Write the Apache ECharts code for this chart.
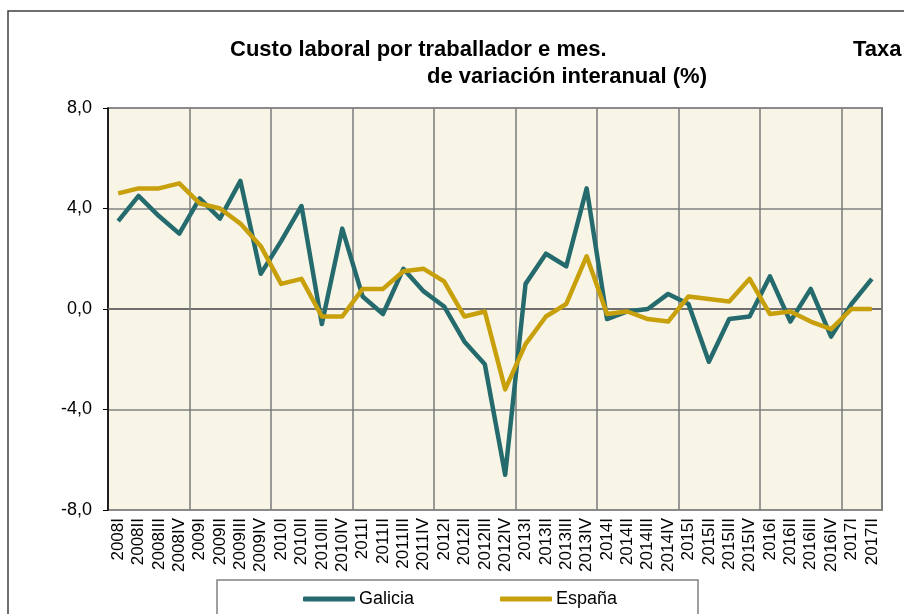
<!DOCTYPE html>
<html>
<head>
<meta charset="utf-8">
<script src="https://cdn.jsdelivr.net/npm/echarts@6/dist/echarts.min.js"></script>
<style>
html,body{margin:0;padding:0;background:#fff;}
#chart{width:904px;height:614px;}
</style>
</head>
<body>
<div id="chart"></div>
<script>
const categories = [
  "2008I","2008II","2008III","2008IV",
  "2009I","2009II","2009III","2009IV",
  "2010I","2010II","2010III","2010IV",
  "2011I","2011II","2011III","2011IV",
  "2012I","2012II","2012III","2012IV",
  "2013I","2013II","2013III","2013IV",
  "2014I","2014II","2014III","2014IV",
  "2015I","2015II","2015III","2015IV",
  "2016I","2016II","2016III","2016IV",
  "2017I","2017II"
];
const galicia = [
  3.5, 4.5, 3.7, 3.0,
  4.4, 3.6, 5.1, 1.4,
  2.7, 4.1, -0.6, 3.2,
  0.5, -0.2, 1.6, 0.7,
  0.1, -1.3, -2.2, -6.6,
  1.0, 2.2, 1.7, 4.8,
  -0.4, -0.1, 0.0, 0.6,
  0.2, -2.1, -0.4, -0.3,
  1.3, -0.5, 0.8, -1.1,
  0.2, 1.2
];
const espana = [
  4.6, 4.8, 4.8, 5.0,
  4.2, 4.0, 3.4, 2.5,
  1.0, 1.2, -0.3, -0.3,
  0.8, 0.8, 1.5, 1.6,
  1.1, -0.3, -0.1, -3.2,
  -1.4, -0.3, 0.2, 2.1,
  -0.2, -0.1, -0.4, -0.5,
  0.5, 0.4, 0.3, 1.2,
  -0.2, -0.1, -0.5, -0.8,
  0.0, 0.0
];
const seriesNames = ["Galicia", "España"];
const titleLine1 = "Custo laboral por traballador e mes.";
const titleLine2 = "de variación interanual (%)";
const titleRight = "Taxa";

const chart = echarts.init(document.getElementById('chart'), null, {renderer: 'canvas'});
const font = '"Liberation Sans", Arial, sans-serif';
const option = {
  backgroundColor: '#ffffff',
  animation: false,
  textStyle: {fontFamily: font},
  graphic: [
    {type: 'rect', z: -10, shape: {x: 8, y: 11, width: 1000, height: 700},
     style: {fill: '#ffffff', stroke: '#404040', lineWidth: 1.5}},
    {type: 'rect', z: -5, shape: {x: 217, y: 580, width: 481, height: 60},
     style: {fill: '#ffffff', stroke: '#808080', lineWidth: 1.5}}
  ],
  title: [
    {text: titleLine1, left: 230, top: 39, padding: 0,
     textStyle: {fontFamily: font, fontWeight: 'bold', fontSize: 22, color: '#000'}},
    {text: titleLine2, left: 427, top: 66, padding: 0,
     textStyle: {fontFamily: font, fontWeight: 'bold', fontSize: 22, color: '#000'}},
    {text: titleRight, left: 853, top: 39, padding: 0,
     textStyle: {fontFamily: font, fontWeight: 'bold', fontSize: 22, color: '#000'}}
  ],
  legend: {
    data: seriesNames,
    left: 303, top: 590, padding: 0,
    icon: 'roundRect',
    itemWidth: 52, itemHeight: 5,
    itemGap: 86,
    textStyle: {fontFamily: font, fontSize: 18, color: '#000', padding: [0, 0, 0, -1]}
  },
  grid: {
    left: 108, top: 108, right: 22, bottom: 104,
    show: true, backgroundColor: '#F8F5E7', borderColor: '#8a8a8a', borderWidth: 2
  },
  xAxis: {
    type: 'category',
    data: categories,
    boundaryGap: true,
    axisLine: {show: true, lineStyle: {color: '#808080', width: 1.5}},
    axisTick: {show: false},
    axisLabel: {interval: 0, rotate: 90, margin: 8, fontSize: 17, color: '#000', fontFamily: font},
    splitLine: {show: true, interval: function (i) { return i % 4 === 0; },
                lineStyle: {color: '#7a7a7a', width: 1.5}}
  },
  yAxis: {
    type: 'value',
    min: -8, max: 8, interval: 4,
    axisLine: {show: true, lineStyle: {color: '#000', width: 1.5}},
    axisTick: {show: true, length: 5, lineStyle: {color: '#000'}},
    axisLabel: {
      margin: 16, fontSize: 18, color: '#000', fontFamily: font,
      formatter: v => v.toFixed(1).replace('.', ',')
    },
    splitLine: {show: true, lineStyle: {color: ['#8a8a8a', '#808080', '#000000', '#808080', '#8a8a8a'], width: 1.5}}
  },
  series: [
    {name: seriesNames[0], type: 'line', data: galicia, symbol: 'none',
     lineStyle: {width: 4.5, color: '#256B6E', join: 'round'}, itemStyle: {color: '#256B6E'}, z: 3},
    {name: seriesNames[1], type: 'line', data: espana, symbol: 'none',
     lineStyle: {width: 4.5, color: '#C8A00B', join: 'round'}, itemStyle: {color: '#C8A00B'}, z: 4}
  ]
};
chart.setOption(option);
</script>
</body>
</html>
